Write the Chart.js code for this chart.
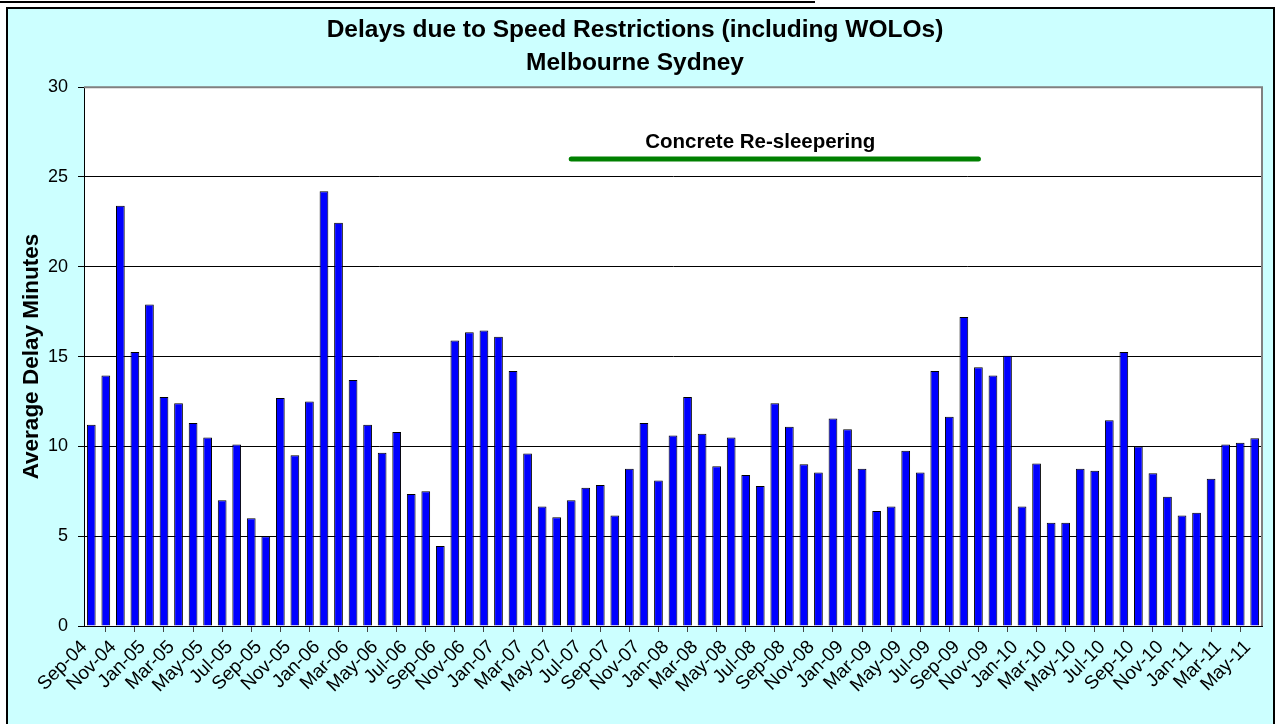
<!DOCTYPE html>
<html>
<head>
<meta charset="utf-8">
<title>Delays due to Speed Restrictions</title>
<script src="https://cdn.jsdelivr.net/npm/chart.js@4.4.1/dist/chart.umd.min.js"></script>
<style>
    html, body { margin: 0; padding: 0; background: #fff; }
    #wrap { position: relative; width: 1277px; height: 724px; }
</style>
</head>
<body>
<div id="wrap"><canvas id="chart1"></canvas></div>
<script>
// months, Sep-04 .. May-11
var months = [
    'Sep-04', 'Oct-04', 'Nov-04', 'Dec-04', 'Jan-05', 'Feb-05', 'Mar-05', 'Apr-05', 'May-05', 'Jun-05',
    'Jul-05', 'Aug-05', 'Sep-05', 'Oct-05', 'Nov-05', 'Dec-05', 'Jan-06', 'Feb-06', 'Mar-06', 'Apr-06',
    'May-06', 'Jun-06', 'Jul-06', 'Aug-06', 'Sep-06', 'Oct-06', 'Nov-06', 'Dec-06', 'Jan-07', 'Feb-07',
    'Mar-07', 'Apr-07', 'May-07', 'Jun-07', 'Jul-07', 'Aug-07', 'Sep-07', 'Oct-07', 'Nov-07', 'Dec-07',
    'Jan-08', 'Feb-08', 'Mar-08', 'Apr-08', 'May-08', 'Jun-08', 'Jul-08', 'Aug-08', 'Sep-08', 'Oct-08',
    'Nov-08', 'Dec-08', 'Jan-09', 'Feb-09', 'Mar-09', 'Apr-09', 'May-09', 'Jun-09', 'Jul-09', 'Aug-09',
    'Sep-09', 'Oct-09', 'Nov-09', 'Dec-09', 'Jan-10', 'Feb-10', 'Mar-10', 'Apr-10', 'May-10', 'Jun-10',
    'Jul-10', 'Aug-10', 'Sep-10', 'Oct-10', 'Nov-10', 'Dec-10', 'Jan-11', 'Feb-11', 'Mar-11', 'Apr-11',
    'May-11'
];

// average delay minutes per month
var delayMinutes = [
    11.2, 13.95, 23.4, 15.25, 17.9, 12.75, 12.4, 11.3, 10.5, 7.0,
    10.1, 6.0, 5.0, 12.7, 9.5, 12.5, 24.2, 22.45, 13.7, 11.2,
    9.65, 10.8, 7.35, 7.5, 4.45, 15.9, 16.35, 16.45, 16.1, 14.2,
    9.6, 6.65, 6.05, 7.0, 7.7, 7.85, 6.15, 8.75, 11.3, 8.1,
    10.6, 12.75, 10.7, 8.9, 10.5, 8.4, 7.8, 12.4, 11.1, 9.0,
    8.55, 11.55, 10.95, 8.75, 6.4, 6.65, 9.75, 8.55, 14.2, 11.65,
    17.2, 14.4, 13.95, 15.05, 6.65, 9.05, 5.75, 5.75, 8.75, 8.65,
    11.45, 15.25, 10.0, 8.5, 7.2, 6.15, 6.3, 8.2, 10.1, 10.2,
    10.45
];

// re-sleepering period marker
var resleeperLabel = 'Concrete Re-sleepering';
var resleeperStart = 'Jun-07';
var resleeperEnd = 'Oct-09';
var resleeperLevel = 26;
var resleeperTextAt = 'Jul-08';
var resleeperTextLevel = 26.9;

var yTicks = [0, 5, 10, 15, 20, 25, 30];
var titleLines = ['Delays due to Speed Restrictions (including WOLOs)', 'Melbourne Sydney'];
var yTitle = 'Average Delay Minutes';

var FONT = 'Arial, "Liberation Sans", sans-serif';

// line data: only the two ends of the period
var resleeperData = months.map(function (m) {
    return (m === resleeperStart || m === resleeperEnd) ? resleeperLevel : null;
});

var backdrop = {
    id: 'backdrop',
    beforeDraw: function (chart) {
        var c = chart.ctx;
        var a = chart.chartArea;
        c.save();
        c.fillStyle = '#ffffff';
        c.fillRect(0, 0, chart.width, chart.height);
        c.strokeStyle = '#000';
        c.lineWidth = 2;
        c.beginPath();
        c.moveTo(0, 2);
        c.lineTo(815, 2);
        c.stroke();
        c.fillStyle = '#ccffff';
        c.fillRect(7, 8, 1267, 716);
        c.lineWidth = 2;
        c.strokeRect(7, 8, 1267, 718);
        c.fillStyle = '#ffffff';
        c.fillRect(a.left, a.top, a.right - a.left, a.bottom - a.top);
        c.restore();
    },
    afterDraw: function (chart) {
        var c = chart.ctx;
        var a = chart.chartArea;
        var xs = chart.scales.x;
        var ys = chart.scales.y;
        c.save();
        c.strokeStyle = '#808080';
        c.lineWidth = 2;
        c.beginPath();
        c.moveTo(a.left, a.top);
        c.lineTo(a.right, a.top);
        c.lineTo(a.right, a.bottom);
        c.stroke();
        c.fillStyle = '#000';
        c.font = 'bold 20.5px ' + FONT;
        c.textAlign = 'center';
        c.textBaseline = 'middle';
        c.fillText(resleeperLabel, xs.getPixelForValue(months.indexOf(resleeperTextAt)), ys.getPixelForValue(resleeperTextLevel));
        c.restore();
    }
};

var config1 = {
    type: 'bar',
    data: {
        labels: months,
        datasets: [{
            type: 'line',
            label: resleeperLabel,
            data: resleeperData,
            spanGaps: true,
            borderColor: '#008000',
            borderWidth: 5,
            borderCapStyle: 'round',
            pointRadius: 0,
            fill: false,
            order: 0
        }, {
            label: yTitle,
            data: delayMinutes,
            backgroundColor: '#0000ff',
            borderColor: '#000000',
            borderWidth: 1,
            barPercentage: 0.6,
            categoryPercentage: 1.0,
            order: 1
        }]
    },
    options: {
        responsive: true,
        maintainAspectRatio: false,
        animation: false,
        layout: {
            padding: { left: 8, right: 15, top: 9, bottom: 0 }
        },
        scales: {
            x: {
                offset: true,
                grid: {
                    offset: true,
                    drawOnChartArea: false,
                    drawTicks: true,
                    tickLength: 6,
                    tickColor: '#444'
                },
                border: { display: true, color: '#000', width: 1 },
                ticks: {
                    autoSkip: false,
                    minRotation: 45,
                    maxRotation: 45,
                    padding: 4,
                    labelOffset: -7,
                    color: '#000',
                    font: { family: FONT, size: 19 },
                    callback: function (val, i) {
                        return i % 2 === 0 ? months[i] : null;
                    }
                },
                afterFit: function (scale) {
                    scale.height = 98;
                }
            },
            y: {
                min: 0,
                max: 30,
                afterBuildTicks: function (scale) {
                    scale.ticks = yTicks.map(function (v) { return { value: v }; });
                },
                grid: {
                    color: function (ctx) {
                        return ctx.tick && ctx.tick.value === 30 ? '#808080' : '#000';
                    },
                    lineWidth: 1,
                    drawTicks: true,
                    tickLength: 6,
                    tickColor: '#000'
                },
                border: { display: true, color: '#000', width: 1 },
                ticks: {
                    padding: 10,
                    color: '#000',
                    font: { family: FONT, size: 18 }
                },
                title: {
                    display: true,
                    text: yTitle,
                    color: '#000',
                    font: { family: FONT, size: 22.5, weight: 'bold' },
                    padding: { top: 10, bottom: 0 }
                },
                afterFit: function (scale) {
                    scale.width = 76;
                }
            }
        },
        plugins: {
            legend: { display: false },
            tooltip: { enabled: false },
            title: {
                display: true,
                text: titleLines,
                color: '#000',
                font: { family: FONT, size: 24.5, weight: 'bold', lineHeight: 1.35 },
                padding: { top: 5, bottom: 7 }
            }
        }
    },
    plugins: [backdrop]
};

var chart1 = new Chart(document.getElementById('chart1'), config1);
</script>
</body>
</html>
